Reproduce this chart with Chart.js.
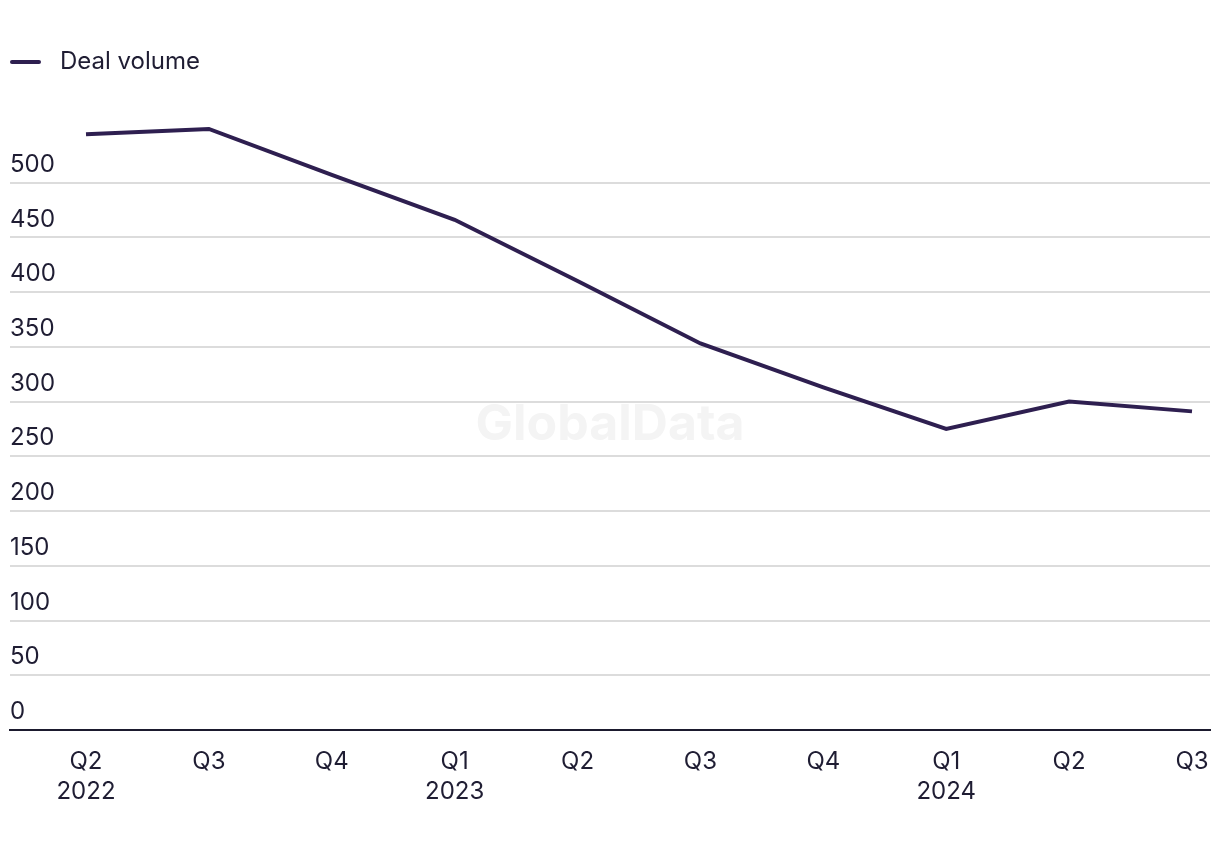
<!DOCTYPE html>
<html>
<head>
<meta charset="utf-8">
<script src="https://cdn.jsdelivr.net/npm/chart.js@4.4.4/dist/chart.umd.min.js"></script>
<style>
  html, body { margin: 0; padding: 0; background: #fff; }
  #wrap { width: 1220px; height: 850px; }
</style>
</head>
<body>
<div id="wrap"><canvas id="chart" width="1220" height="850"></canvas></div>
<script>
// quarters shown on the x axis (second line = year, only at year start)
const quarters = [
    ["Q2", "2022"], ["Q3"], ["Q4"],
    ["Q1", "2023"], ["Q2"], ["Q3"], ["Q4"],
    ["Q1", "2024"], ["Q2"], ["Q3"]
];
const dealVolume = [544, 549, 507, 466, 410, 353, 313, 275, 300, 291];
const yTicks = [0, 50, 100, 150, 200, 250, 300, 350, 400, 450, 500];

const LINE_COLOR = "#2e1f50";
const TEXT_COLOR = "#1f1d33";
const FONT = "'Inter', 'Roboto', sans-serif";

// legend marker: short thick line, left part of a wider box
function legendMarker() {
    const c = document.createElement("canvas");
    c.width = 38;
    c.height = 6;
    const ctx = c.getContext("2d");
    ctx.strokeStyle = LINE_COLOR;
    ctx.lineWidth = 4;
    ctx.lineCap = "round";
    ctx.beginPath();
    ctx.moveTo(2, 3);
    ctx.lineTo(29, 3);
    ctx.stroke();
    return c;
}

const watermark = {
    id: "watermark",
    beforeDatasetsDraw(chart) {
        const { ctx, chartArea } = chart;
        ctx.save();
        ctx.font = `bold 50px ${FONT}`;
        ctx.fillStyle = "#f4f4f4";
        ctx.textAlign = "center";
        ctx.textBaseline = "middle";
        ctx.fillText("GlobalData", (chartArea.left + chartArea.right) / 2, 425);
        ctx.restore();
    }
};

new Chart(document.getElementById("chart"), {
    type: "line",
    data: {
        datasets: [{
            label: "Deal volume",
            data: dealVolume.map((v, i) => ({ x: i, y: v })),
            borderColor: LINE_COLOR,
            backgroundColor: LINE_COLOR,
            borderWidth: 4,
            tension: 0,
            pointRadius: 0,
            pointHoverRadius: 0,
            fill: false
        }]
    },
    options: {
        responsive: false,
        animation: false,
        layout: { padding: { left: 10, right: 10, top: 50, bottom: 26 } },
        plugins: {
            tooltip: { enabled: false },
            legend: {
                position: "top",
                align: "start",
                labels: {
                    usePointStyle: true,
                    pointStyle: legendMarker(),
                    pointStyleWidth: 38,
                    padding: 0,
                    color: TEXT_COLOR,
                    font: { family: FONT, size: 24 }
                }
            }
        },
        scales: {
            x: {
                type: "linear",
                min: -0.6185,
                max: 9.1465,
                afterBuildTicks(scale) {
                    scale.ticks = quarters.map((_, i) => ({ value: i }));
                },
                afterFit(scale) {
                    // labels sit well inside the plot, no extra side padding needed
                    scale.paddingLeft = 0;
                    scale.paddingRight = 0;
                },
                grid: { display: false, drawTicks: false },
                border: { display: true, color: "#1b1a2e", width: 2 },
                ticks: {
                    padding: 17,
                    color: TEXT_COLOR,
                    maxRotation: 0,
                    autoSkip: false,
                    font: { family: FONT, size: 24, lineHeight: 1.25 },
                    callback(value) {
                        return quarters[value];
                    }
                }
            },
            y: {
                min: 0,
                max: 590,
                afterBuildTicks(scale) {
                    scale.ticks = yTicks.map(v => ({ value: v }));
                },
                grid: { color: "#dcdcdc", lineWidth: 2, drawTicks: false },
                border: { display: false },
                ticks: {
                    mirror: true,
                    padding: 0,
                    labelOffset: -18,
                    color: TEXT_COLOR,
                    font: { family: FONT, size: 24 }
                }
            }
        }
    },
    plugins: [watermark]
});
</script>
</body>
</html>
